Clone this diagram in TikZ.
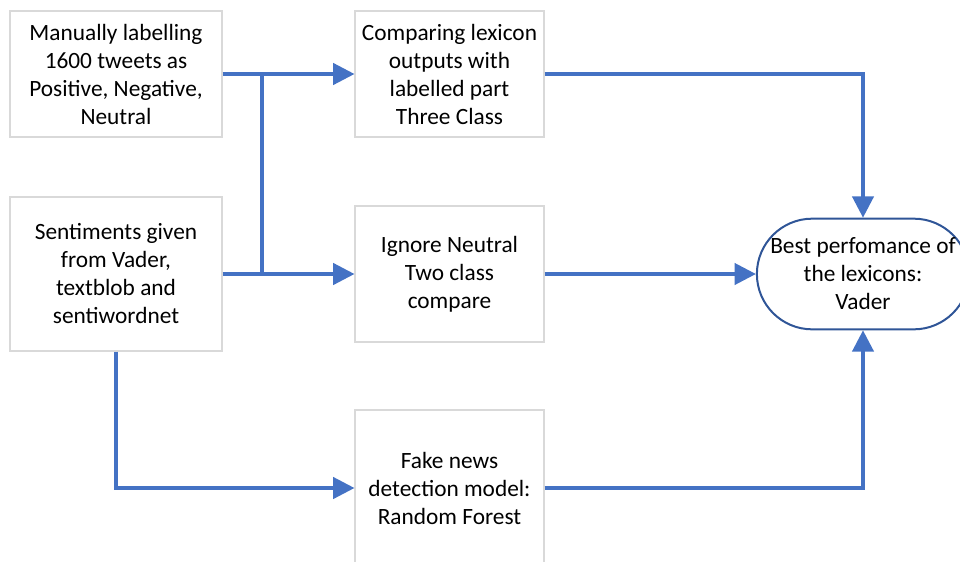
\documentclass[tikz,border=0pt]{standalone}
\usepackage{fontspec}
\setmainfont{Carlito}
\usepackage{tikz}
\usetikzlibrary{arrows.meta,%
	shapes.misc}
\usetikzlibrary {positioning}
\definecolor{flowblue}{RGB}{68,114,196}
\definecolor{edgeblue}{RGB}{47,85,151}
\definecolor{boxgray}{RGB}{217,217,217}

\begin{document}
\begin{tikzpicture}[x=0.75pt,y=-0.75pt,font=\fontsize{17.5}{21}\selectfont]
		\useasboundingbox (0,0) rectangle (960,561);
		\tikzstyle{Step}=[draw=boxgray,line width=0.8pt,align=center,inner sep=0pt]
		\tikzstyle{Flow}=[draw=flowblue,line width=2.5pt,-{Triangle[length=16pt,width=16pt]}]
		\node[Step,minimum width=159pt,minimum height=94.5pt] (label) at (116,74) {Manually labelling\\1600 tweets as\\Positive, Negative,\\Neutral};
		\node[Step,minimum width=159pt,minimum height=115.5pt] (senti) at (116,274) {Sentiments given\\from Vader,\\textblob and\\sentiwordnet};
		\node[Step,minimum width=141.75pt,minimum height=94.5pt] (three) at (449.5,74) {Comparing lexicon\\outputs with\\labelled part\\Three Class};
		\node[Step,minimum width=141.75pt,minimum height=102pt] (two) at (449.5,274) {Ignore Neutral\\Two class\\compare};
		\node[Step,minimum width=141.75pt,minimum height=117pt] (fake) at (449.5,488) {Fake news\\detection model:\\Random Forest};
		\node[rounded rectangle,draw=edgeblue,line width=1.5pt,minimum width=159pt,minimum height=83pt,inner sep=0pt,align=center] (best) at (863,274) {Best perfomance of\\the lexicons:\\Vader};
		\coordinate (jtop) at (262,74);
		\coordinate (jbot) at (262,274);
		\draw[Flow] (label.east) -- (three.west);
		\draw[Flow] (senti.east) -- (two.west);
		\draw[Flow,-] (jtop) -- (jbot);
		\draw[Flow] (senti.south) |- (fake.west);
		\draw[Flow] (three.east) -| (best.north);
		\draw[Flow] (two.east) -- (best.west);
		\draw[Flow] (fake.east) -| (best.south);
		\end{tikzpicture}
\end{document}
